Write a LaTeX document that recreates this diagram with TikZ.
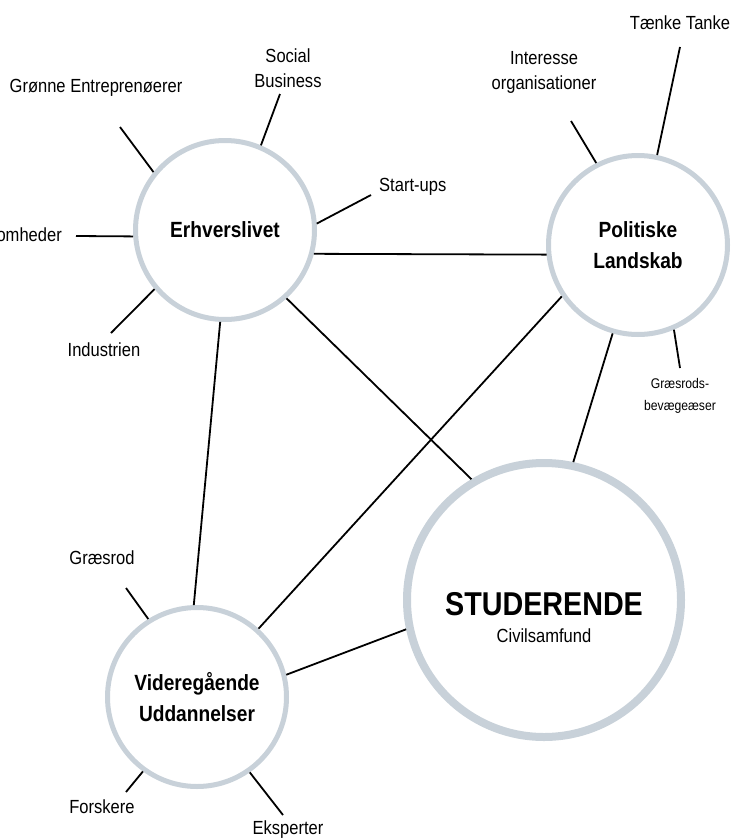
\documentclass[tikz,border=0pt]{standalone}
\usepackage{fontspec}
\setmainfont{Liberation Sans}[FakeStretch=0.87]
\definecolor{ringgray}{HTML}{C8D1D9}
\begin{document}
\begin{tikzpicture}[x=1pt,y=-1pt,
  hub/.style={circle,draw=ringgray,line width=5pt,fill=white,minimum size=179pt,inner sep=0pt,align=center,
    font=\fontsize{22}{31}\selectfont\bfseries},
  bighub/.style={hub,line width=8pt,minimum size=274pt},
  link/.style={line width=1.8pt,draw=black},
  lbl/.style={inner sep=0pt,align=center,font=\fontsize{19}{25}\selectfont},
  smalllbl/.style={lbl,font=\fontsize{14}{22}\selectfont}]
\useasboundingbox (0,0) rectangle (733,838);
\fill[white] (0,0) rectangle (733,838);

% hubs
\node[hub] (E) at (225,230) {Erhverslivet};
\node[hub] (P) at (638,245) {Politiske\\Landskab};
\node[hub] (V) at (197,697) {Videregående\\Uddannelser};
\node[bighub] (S) at (544,600) {};
\node[inner sep=0pt,font=\fontsize{33}{36}\selectfont\bfseries] (stud) at (544,604) {STUDERENDE};
\node[lbl] (civ) at (544,636) {Civilsamfund};

% connectors between hubs
\draw[link] (E.-15) -- (P.186);
\draw[link] (E.-48) -- (S.121.5);
\draw[link] (E.-93) -- (V.92);
\draw[link] (P.214) -- (V.48.5);
\draw[link] (P.254) -- (S.78);
\draw[link] (V.14) -- (S.192);

% spoke end points
\coordinate (cSB) at (280,94);
\coordinate (cGE) at (120,127);
\coordinate (cVH) at (76,236);
\coordinate (cIN) at (111,333);
\coordinate (cSU) at (371,195);
\coordinate (cIO) at (571,121);
\coordinate (cTT) at (680,47);
\coordinate (cGB) at (680,368);
\coordinate (cGR) at (126,588);
\coordinate (cFO) at (126,792);
\coordinate (cEK) at (283,815);

% spokes
\draw[link] (E.67) -- (cSB);
\draw[link] (E.141) -- (cGE);
\draw[link] (E.184) -- (cVH);
\draw[link] (E.220) -- (cIN);
\draw[link] (E.4) -- (cSU);
\draw[link] (P.117) -- (cIO);
\draw[link] (P.78) -- (cTT);
\draw[link] (P.-67.5) -- (cGB);
\draw[link] (V.122) -- (cGR);
\draw[link] (V.234) -- (cFO);
\draw[link] (V.305) -- (cEK);

% labels
\node[lbl] (lSB) at (288,68) {Social\\Business};
\node[lbl] (lGE) at (96,88) {Grønne Entreprenøerer};
\node[lbl,anchor=east] (lVH) at (62,235) {Virksomheder};
\node[lbl] (lIN) at (104,350) {Industrien};
\node[lbl,anchor=west] (lSU) at (379,187) {Start-ups};
\node[lbl] (lIO) at (544,72) {Interesse\\organisationer};
\node[lbl] (lTT) at (680,23) {Tænke Tanke};
\node[smalllbl] (lGB) at (680,396) {Græsrods-\\bevægeæser};
\node[lbl] (lGR) at (102,558) {Græsrod};
\node[lbl] (lFO) at (102,807) {Forskere};
\node[lbl] (lEK) at (288,830) {Eksperter};
\end{tikzpicture}
\end{document}
